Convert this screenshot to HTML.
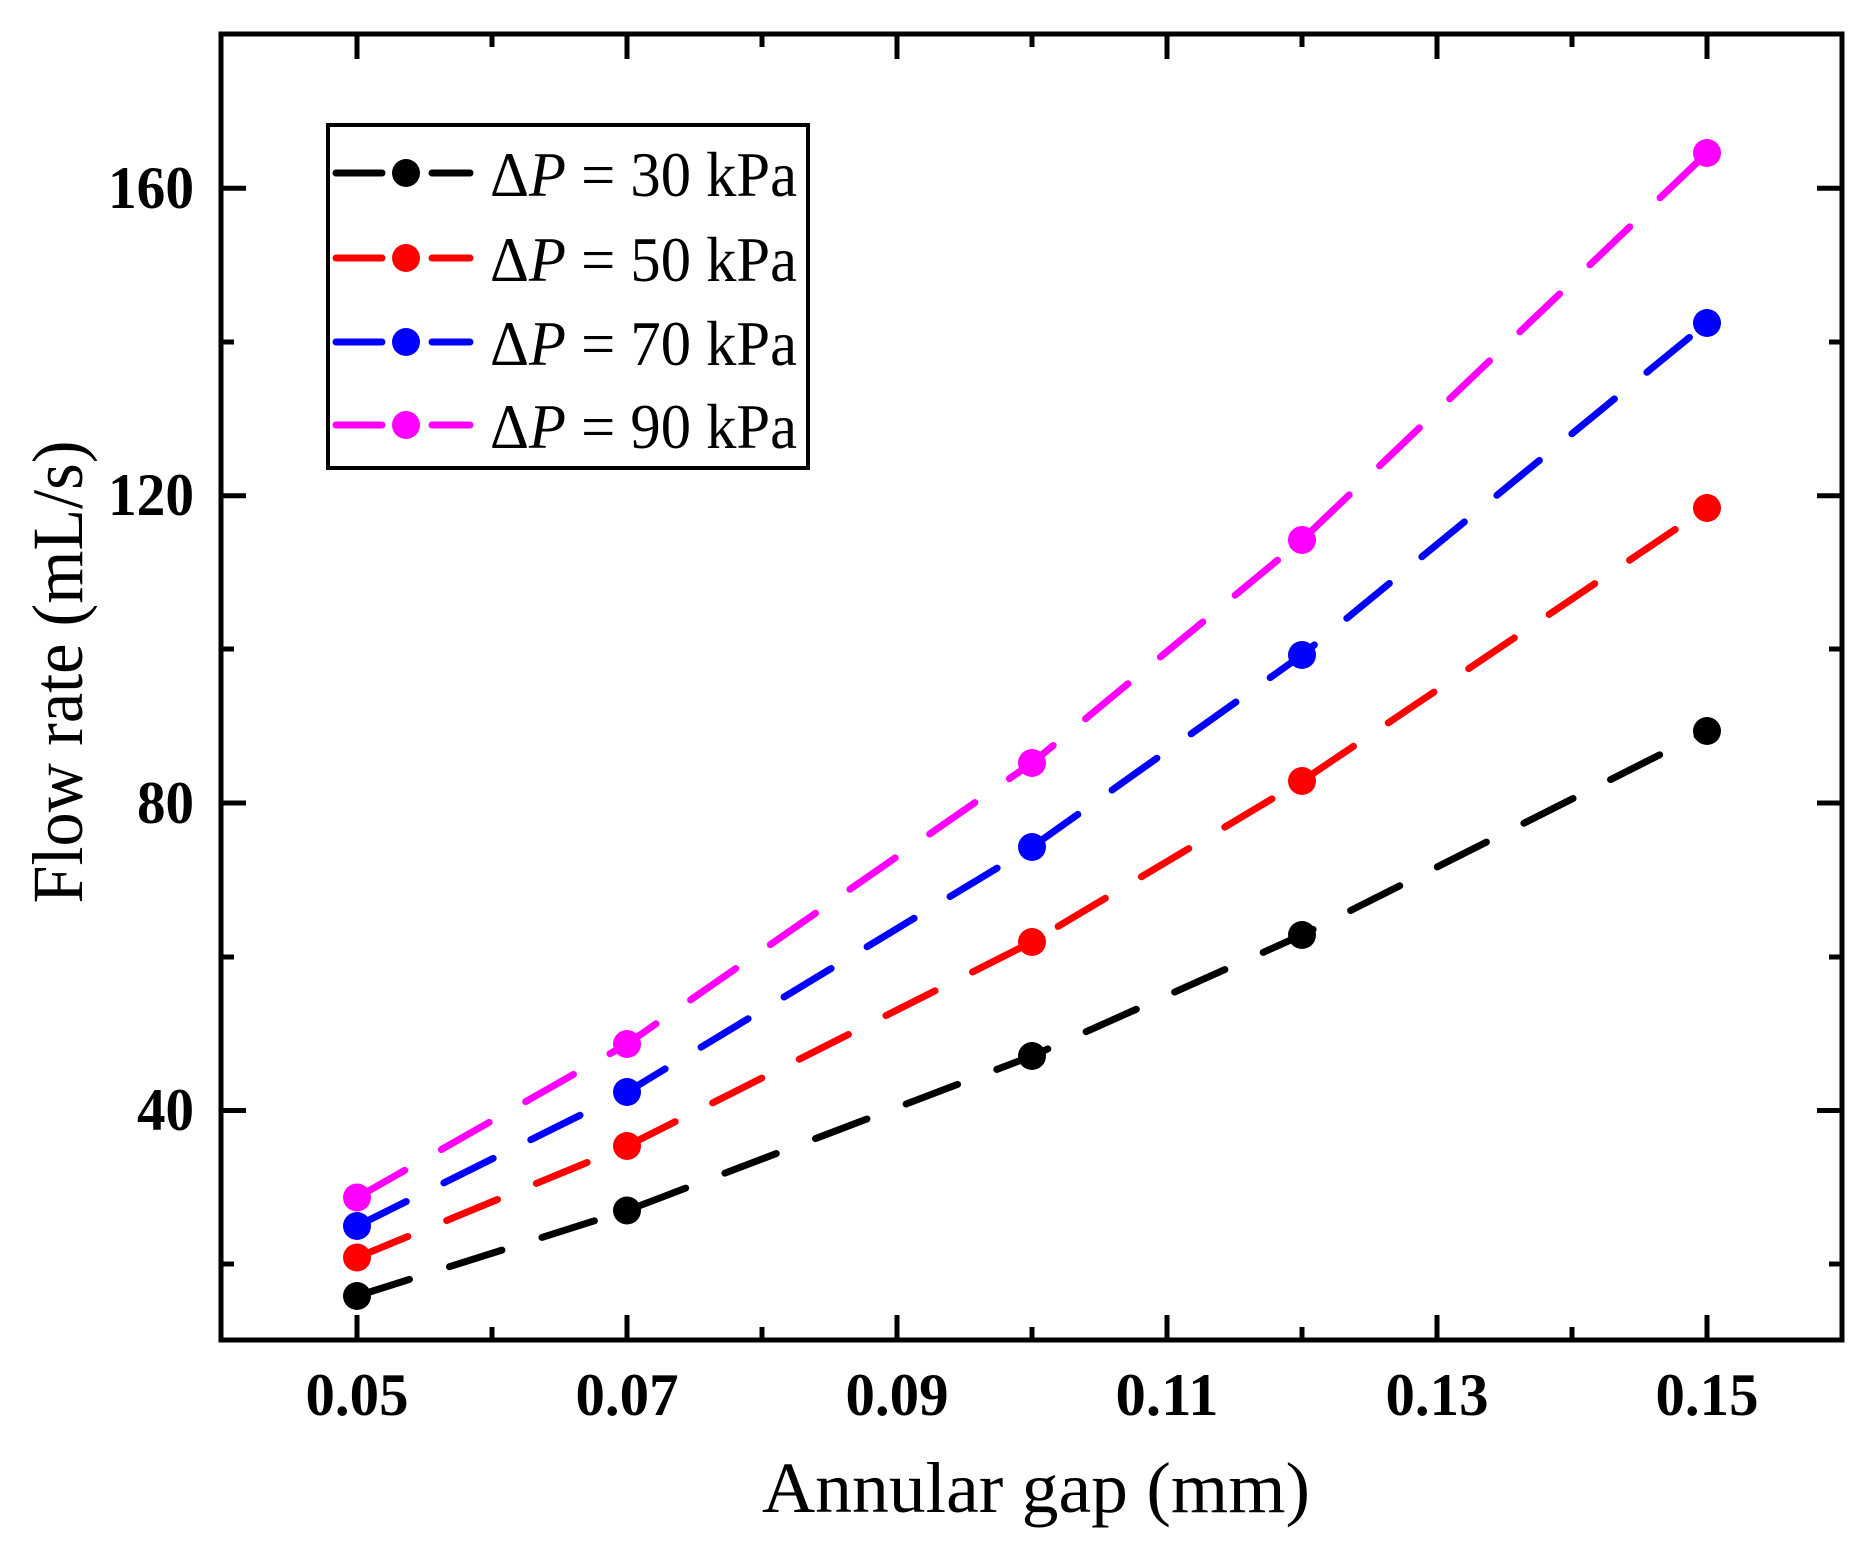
<!DOCTYPE html>
<html><head><meta charset="utf-8"><style>
html,body{margin:0;padding:0;background:#fff;}
svg{display:block;}
text{font-family:"Liberation Serif",serif;}
</style></head><body>
<svg width="1874" height="1543" viewBox="0 0 1874 1543" xmlns="http://www.w3.org/2000/svg">
<rect width="1874" height="1543" fill="#fff"/>
<rect x="221" y="34" width="1621" height="1306" fill="none" stroke="#000" stroke-width="5"/>
<g stroke="#000" stroke-width="5">
<path d="M357 1340v-25M627 1340v-25M897 1340v-25M1167 1340v-25M1437 1340v-25M1707 1340v-25"/>
<path d="M357 34v25M627 34v25M897 34v25M1167 34v25M1437 34v25M1707 34v25"/>
<path d="M492 1340v-13M762 1340v-13M1032 1340v-13M1302 1340v-13M1572 1340v-13"/>
<path d="M492 34v13M762 34v13M1032 34v13M1302 34v13M1572 34v13"/>
<path d="M221 1110.5h25M221 803h25M221 495.7h25M221 188.3h25"/>
<path d="M1842 1110.5h-25M1842 803h-25M1842 495.7h-25M1842 188.3h-25"/>
<path d="M221 1264h13M221 957h13M221 649h13M221 342h13"/>
<path d="M1842 1264h-13M1842 957h-13M1842 649h-13M1842 342h-13"/>
</g>
<g font-weight="bold" font-size="60" text-anchor="end">
<text x="194" y="1130" textLength="57" lengthAdjust="spacingAndGlyphs">40</text>
<text x="194" y="823" textLength="57" lengthAdjust="spacingAndGlyphs">80</text>
<text x="194" y="515" textLength="86" lengthAdjust="spacingAndGlyphs">120</text>
<text x="194" y="208" textLength="86" lengthAdjust="spacingAndGlyphs">160</text>
</g>
<g font-weight="bold" font-size="60" text-anchor="middle">
<text x="357" y="1415" textLength="103" lengthAdjust="spacingAndGlyphs">0.05</text>
<text x="627" y="1415" textLength="103" lengthAdjust="spacingAndGlyphs">0.07</text>
<text x="897" y="1415" textLength="103" lengthAdjust="spacingAndGlyphs">0.09</text>
<text x="1167" y="1415" textLength="103" lengthAdjust="spacingAndGlyphs">0.11</text>
<text x="1437" y="1415" textLength="103" lengthAdjust="spacingAndGlyphs">0.13</text>
<text x="1707" y="1415" textLength="103" lengthAdjust="spacingAndGlyphs">0.15</text>
</g>
<text x="1036" y="1512" font-size="72" text-anchor="middle" textLength="548" lengthAdjust="spacingAndGlyphs">Annular gap (mm)</text>
<text transform="translate(82,672) rotate(-90)" font-size="72" text-anchor="middle" textLength="463" lengthAdjust="spacingAndGlyphs">Flow rate (mL/s)</text>
<g fill="none" stroke-width="7" stroke-linecap="round" stroke-dasharray="55 42">
<path stroke="#000" d="M357 1296 L627 1210.5 L1032 1056 L1302 935 L1707 731"/>
<path stroke="#f00" d="M357 1257.5 L627 1146 L1032 942 L1302 781 L1707 508"/>
<path stroke="#00f" d="M357 1226 L627 1092 L1032 847 L1302 655 L1707 323"/>
<path stroke="#f0f" d="M357 1197.5 L627 1044 L1032 763 L1302 540 L1707 153"/>
</g>
<g>
<g fill="#000"><circle cx="357" cy="1296" r="14"/><circle cx="627" cy="1210.5" r="14"/><circle cx="1032" cy="1056" r="14"/><circle cx="1302" cy="935" r="14"/><circle cx="1707" cy="731" r="14"/></g>
<g fill="#f00"><circle cx="357" cy="1257.5" r="14"/><circle cx="627" cy="1146" r="14"/><circle cx="1032" cy="942" r="14"/><circle cx="1302" cy="781" r="14"/><circle cx="1707" cy="508" r="14"/></g>
<g fill="#00f"><circle cx="357" cy="1226" r="14"/><circle cx="627" cy="1092" r="14"/><circle cx="1032" cy="847" r="14"/><circle cx="1302" cy="655" r="14"/><circle cx="1707" cy="323" r="14"/></g>
<g fill="#f0f"><circle cx="357" cy="1197.5" r="14"/><circle cx="627" cy="1044" r="14"/><circle cx="1032" cy="763" r="14"/><circle cx="1302" cy="540" r="14"/><circle cx="1707" cy="153" r="14"/></g>
</g>
<rect x="328" y="125" width="480" height="343" fill="#fff" stroke="#000" stroke-width="4"/>
<g stroke-width="7" stroke-linecap="round">
<path stroke="#000" d="M336 173h46M432 173h38"/><circle cx="406" cy="173" r="14" fill="#000"/>
<path stroke="#f00" d="M336 258h46M432 258h38"/><circle cx="406" cy="258" r="14" fill="#f00"/>
<path stroke="#00f" d="M336 342h46M432 342h38"/><circle cx="406" cy="342" r="14" fill="#00f"/>
<path stroke="#f0f" d="M336 425h46M432 425h38"/><circle cx="406" cy="425" r="14" fill="#f0f"/>
</g>
<g font-size="64">
<text x="490" y="196" textLength="307" lengthAdjust="spacingAndGlyphs">Δ<tspan font-style="italic">P</tspan> = 30 kPa</text>
<text x="490" y="281" textLength="307" lengthAdjust="spacingAndGlyphs">Δ<tspan font-style="italic">P</tspan> = 50 kPa</text>
<text x="490" y="365" textLength="307" lengthAdjust="spacingAndGlyphs">Δ<tspan font-style="italic">P</tspan> = 70 kPa</text>
<text x="490" y="448" textLength="307" lengthAdjust="spacingAndGlyphs">Δ<tspan font-style="italic">P</tspan> = 90 kPa</text>
</g>
</svg>
</body></html>
